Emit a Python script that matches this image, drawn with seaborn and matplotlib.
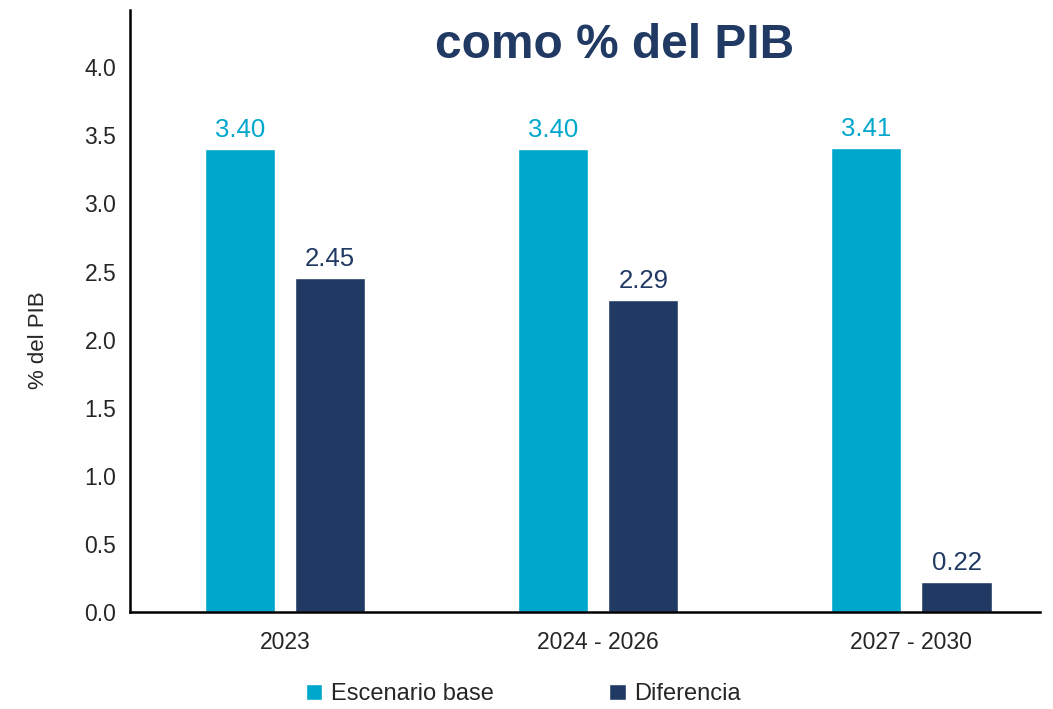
import matplotlib
matplotlib.use("Agg")
import matplotlib.pyplot as plt
import pandas as pd
import seaborn as sns

# data
periodos = ["2023", "2024 - 2026", "2027 - 2030"]
escenario_base = [3.40, 3.40, 3.41]
diferencia = [2.45, 2.29, 0.22]
series = ["Escenario base", "Diferencia"]
colores = ["#00A7CC", "#213A63"]

df = pd.DataFrame({
    "periodo": periodos * 2,
    "valor": escenario_base + diferencia,
    "serie": [series[0]] * 3 + [series[1]] * 3,
})

sns.set_style("white")
plt.rcParams["font.family"] = ["Liberation Sans", "DejaVu Sans"]

fig = plt.figure(figsize=(10.53, 7.09), dpi=100)
ax = fig.add_axes([0.1235, 0.1368, 0.864, 0.849])

sns.barplot(data=df, x="periodo", y="valor", hue="serie", palette=colores,
            width=0.576, gap=0.222, saturation=1, ax=ax, legend=True)

# value labels above bars, in the bar colour
for cont, col in zip(ax.containers, colores):
    ax.bar_label(cont, fmt="%.2f", padding=5, fontsize=18.5, color=col)

ax.set_ylim(0, 4.42)
ax.set_xlim(-0.495, 2.41)
ax.set_yticks([0, 0.5, 1, 1.5, 2, 2.5, 3, 3.5, 4])
ax.set_yticklabels(["%.1f" % v for v in ax.get_yticks()], fontsize=16.5, color="#262626")
ax.tick_params(axis="x", labelsize=16.5, colors="#262626", length=0, pad=14)
ax.tick_params(axis="y", length=0, pad=10)
ax.set_xlabel("")
ax.set_ylabel("")
fig.text(38 / 1053, 1 - 340 / 709, "% del PIB", rotation=90, ha="center", va="center",
         fontsize=16, color="#262626")

sns.despine(ax=ax)
for s in ["left", "bottom"]:
    ax.spines[s].set_color("black")
    ax.spines[s].set_linewidth(1.8)

h, l = ax.get_legend_handles_labels()
ax.legend_.remove()
fig.legend(h, l, loc="center", bbox_to_anchor=(0.497, 0.021), ncol=2, frameon=False,
           fontsize=17, handlelength=0.7, handleheight=0.7, columnspacing=4.9,
           handletextpad=0.35)

fig.text(0.584, 0.936, "como % del PIB", ha="center", va="center",
         fontsize=34.5, fontweight="bold", color="#213A63")

fig.savefig("out.png", dpi=100)
